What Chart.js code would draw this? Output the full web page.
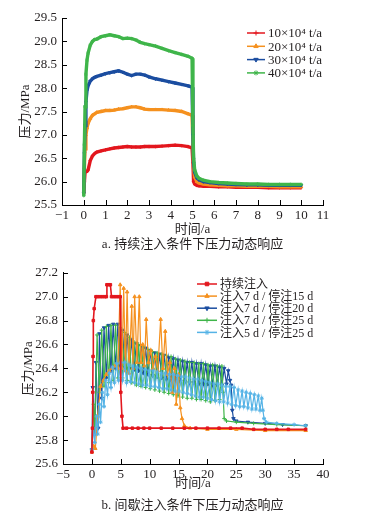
<!DOCTYPE html>
<html>
<head>
<meta charset="utf-8">
<script src="https://cdn.jsdelivr.net/npm/chart.js@4.4.1/dist/chart.umd.min.js"></script>
<style>
  body { margin: 0; width: 369px; height: 522px; background: #fff; position: relative; overflow: hidden; }
  .box { position: absolute; left: 0; width: 369px; }
  .cap { position: absolute; left: 62px; width: 261px; text-align: center; font: 13px/16px 'Liberation Serif', 'Noto Sans CJK SC', serif; color: #231f20; }
</style>
</head>
<body>
<div class="box" style="top:0;height:240px"><canvas id="chartA"></canvas></div>
<div class="cap" style="top:236px">a. 持续注入条件下压力动态响应</div>
<div class="box" style="top:260px;height:235px"><canvas id="chartB"></canvas></div>
<div class="cap" style="top:497px">b. 间歇注入条件下压力动态响应</div>
<script>
// ---- a. continuous injection ----
const yearsA = [0, 0.03, 0.06, 0.1, 0.15, 0.2, 0.3, 0.4, 0.5, 0.6, 0.8, 1.0, 1.2, 1.4, 1.6, 1.8, 2.0, 2.2, 2.4, 2.6, 2.8, 3.0, 3.3, 3.6, 3.9, 4.2, 4.5, 4.8, 4.98, 5.02, 5.05, 5.1, 5.2, 5.3, 5.5, 5.8, 6.2, 6.6, 7.0, 7.5, 8.0, 8.5, 9.0, 9.5, 10.0];
const p10 = [25.75, 26.0, 26.2, 26.2, 26.22, 26.25, 26.45, 26.55, 26.6, 26.63, 26.66, 26.68, 26.7, 26.72, 26.73, 26.74, 26.75, 26.74, 26.74, 26.74, 26.75, 26.75, 26.75, 26.76, 26.77, 26.78, 26.77, 26.75, 26.72, 26.4, 26.0, 25.95, 25.92, 25.91, 25.9, 25.9, 25.89, 25.89, 25.88, 25.88, 25.88, 25.87, 25.87, 25.87, 25.87];
const p20 = [25.8, 26.3, 26.7, 27.0, 27.15, 27.25, 27.35, 27.42, 27.45, 27.48, 27.5, 27.52, 27.52, 27.53, 27.55, 27.56, 27.58, 27.6, 27.6, 27.58, 27.55, 27.54, 27.54, 27.54, 27.53, 27.52, 27.5, 27.45, 27.42, 26.8, 26.3, 26.1, 26.0, 25.97, 25.95, 25.93, 25.92, 25.91, 25.91, 25.9, 25.9, 25.9, 25.89, 25.89, 25.89];
const p30 = [25.75, 26.6, 27.2, 27.7, 27.95, 28.05, 28.15, 28.2, 28.23, 28.25, 28.28, 28.31, 28.33, 28.35, 28.37, 28.34, 28.3, 28.27, 28.3, 28.3, 28.28, 28.24, 28.2, 28.17, 28.14, 28.11, 28.08, 28.05, 28.02, 27.0, 26.4, 26.2, 26.08, 26.04, 26.0, 25.98, 25.96, 25.95, 25.94, 25.93, 25.93, 25.92, 25.92, 25.92, 25.92];
const p40 = [25.7, 26.8, 27.6, 28.3, 28.6, 28.75, 28.92, 29.0, 29.04, 29.05, 29.1, 29.12, 29.14, 29.12, 29.1, 29.06, 29.07, 29.06, 29.03, 28.98, 28.95, 28.93, 28.9, 28.85, 28.8, 28.76, 28.72, 28.68, 28.64, 27.2, 26.5, 26.25, 26.12, 26.07, 26.03, 26.0, 25.98, 25.97, 25.96, 25.95, 25.95, 25.94, 25.94, 25.94, 25.94];
const labelsA = ['10×10⁴ t/a', '20×10⁴ t/a', '30×10⁴ t/a', '40×10⁴ t/a'];

// ---- b. intermittent injection: [year, MPa] ----
const contB = [[0,25.7],[0.1,25.9],[0.15,26.2],[0.2,26.5],[0.25,26.8],[0.4,26.9],[0.7,27.0],[1.0,27.0],[1.4,27.0],[1.8,27.0],[2.2,27.0],[2.5,27.0],[2.6,27.1],[2.9,27.1],[3.2,27.1],[3.4,27.0],[3.8,27.0],[4.2,27.0],[4.6,27.0],[4.9,27.0],[5.0,26.2],[5.2,26.0],[5.4,25.9],[6,25.9],[7,25.9],[8,25.9],[9,25.9],[10,25.9],[12,25.9],[14,25.9],[16,25.9],[18,25.9],[20,25.9],[22,25.9],[24,25.9],[26,25.9],[28,25.89],[30,25.89],[32,25.89],[34,25.89],[37,25.89]];
const cyc7_15 = [[0,25.7],[0.3,25.75],[0.6,25.73],[1.0,26.0],[1.5,26.25],[2.0,26.3],[2.5,26.35],[3,26.38],[3.5,26.4],[4,26.42],[4.5,26.4],[4.9,27.1],[5.2,26.4],[5.5,27.07],[5.8,26.38],[6.1,27.04],[6.4,26.36],[6.9,26.92],[7.1,26.4],[7.4,27.0],[7.8,26.45],[8.2,27.0],[8.5,26.45],[8.8,26.6],[9.1,26.42],[9.4,26.81],[9.8,26.45],[10.2,26.55],[10.6,26.4],[11,26.5],[11.4,26.38],[11.9,26.81],[12.3,26.4],[12.7,26.71],[13.1,26.35],[13.5,26.45],[13.9,26.2],[14.3,26.4],[14.6,26.1],[15.0,26.35],[15.3,26.07],[15.6,25.98],[16,25.92],[17,25.9],[20,25.89],[25,25.89],[30,25.88],[37,25.88]];
const cyc7_20 = [[0,25.72],[0.15,26.24],[0.5,25.85],[0.7,26.45],[1.1,25.9],[1.3,26.69],[1.7,26.15],[2.1,26.74],[2.5,26.32],[2.9,26.76],[3.3,26.38],[3.7,26.77],[4.1,26.4],[4.5,26.77],[4.9,26.42],[5.3,26.72],[5.7,26.41],[6.1,26.68],[6.5,26.4],[6.9,26.64],[7.3,26.39],[7.7,26.61],[8.1,26.38],[8.5,26.59],[8.9,26.36],[9.3,26.57],[9.7,26.35],[10.1,26.55],[10.5,26.34],[10.9,26.53],[11.3,26.33],[11.7,26.52],[12.1,26.32],[12.5,26.51],[12.9,26.31],[13.3,26.49],[13.7,26.3],[14.1,26.48],[14.5,26.3],[14.9,26.47],[15.3,26.29],[15.7,26.46],[16.1,26.29],[16.5,26.45],[16.9,26.28],[17.3,26.45],[17.7,26.28],[18.1,26.44],[18.5,26.27],[18.9,26.44],[19.3,26.27],[19.7,26.43],[20.1,26.27],[20.5,26.42],[20.9,26.26],[21.3,26.42],[21.7,26.26],[22.1,26.41],[22.5,26.26],[22.9,26.4],[23.3,26.27],[23.6,26.38],[23.9,26.3],[24.1,26.26],[24.3,26.05],[24.5,25.98],[25,25.96],[27,25.95],[30,25.94],[33,25.93],[37,25.92]];
const cyc7_25 = [[0,25.72],[0.3,26.1],[0.5,25.88],[0.9,26.68],[1.3,26.2],[1.7,26.72],[2.1,26.25],[2.5,26.75],[2.9,26.28],[3.3,26.76],[3.7,26.3],[4.1,26.76],[4.5,26.32],[4.9,26.74],[5.3,26.32],[5.7,26.7],[6.1,26.3],[6.5,26.66],[6.9,26.28],[7.3,26.62],[7.7,26.26],[8.1,26.6],[8.5,26.25],[8.9,26.58],[9.3,26.24],[9.7,26.56],[10.1,26.23],[10.5,26.54],[10.9,26.22],[11.3,26.53],[11.7,26.21],[12.1,26.52],[12.5,26.2],[12.9,26.51],[13.3,26.19],[13.7,26.5],[14.1,26.18],[14.5,26.48],[14.9,26.17],[15.3,26.47],[15.7,26.16],[16.1,26.46],[16.5,26.15],[16.9,26.45],[17.3,26.15],[17.7,26.45],[18.1,26.14],[18.5,26.44],[18.9,26.14],[19.3,26.44],[19.7,26.13],[20.1,26.43],[20.5,26.12],[20.9,26.43],[21.3,26.13],[21.7,26.42],[22.1,26.14],[22.5,26.42],[22.7,26.2],[22.9,25.98],[23.3,25.96],[25,25.95],[28,25.94],[32,25.93],[37,25.92]];
const cyc5_25 = [[0,25.72],[0.3,25.9],[0.5,25.78],[0.8,26.0],[1.0,25.85],[1.3,26.1],[1.5,25.95],[1.8,26.2],[2.1,26.08],[2.4,26.3],[2.7,26.18],[3.0,26.36],[3.3,26.24],[3.6,26.41],[3.9,26.28],[4.3,26.44],[4.6,26.3],[5.0,26.45],[5.3,26.3],[5.7,26.45],[6.0,26.28],[6.4,26.43],[6.7,26.29],[7.1,26.42],[7.4,26.28],[7.8,26.41],[8.1,26.27],[8.5,26.4],[8.8,26.26],[9.2,26.39],[9.5,26.26],[9.9,26.38],[10.2,26.25],[10.6,26.38],[10.9,26.25],[11.3,26.37],[11.6,26.24],[12,26.36],[12.3,26.23],[12.7,26.36],[13,26.23],[13.4,26.35],[13.7,26.22],[14.1,26.35],[14.4,26.21],[14.8,26.34],[15.1,26.21],[15.5,26.33],[15.8,26.2],[16.2,26.33],[16.5,26.19],[16.9,26.32],[17.2,26.18],[17.6,26.31],[17.9,26.17],[18.3,26.31],[18.6,26.16],[19,26.3],[19.3,26.16],[19.7,26.29],[20,26.15],[20.4,26.28],[20.7,26.14],[21.1,26.27],[21.4,26.13],[21.8,26.27],[22.1,26.12],[22.5,26.26],[22.8,26.12],[23.2,26.25],[23.5,26.11],[23.9,26.25],[24.2,26.1],[24.6,26.24],[24.9,26.09],[25.3,26.22],[25.6,26.08],[26,26.21],[26.3,26.08],[26.7,26.2],[27,26.07],[27.4,26.19],[27.7,26.06],[28.1,26.18],[28.4,26.06],[28.8,26.17],[29.1,26.05],[29.4,26.15],[29.6,26.05],[29.8,25.98],[30.2,25.95],[32,25.94],[35,25.93],[37,25.92]];
const labelsB = ['持续注入', '注入7 d / 停注15 d', '注入7 d / 停注20 d', '注入7 d / 停注25 d', '注入5 d / 停注25 d'];

const RED = '#e3171e', ORANGE = '#f5911f', BLUE = '#1b4da0', GREEN = '#3fb54a', LBLUE = '#55b3e6';
const FONT = "'Liberation Serif', 'Noto Sans CJK SC', serif";
const INK = '#231f20';

Chart.defaults.font.family = FONT;
Chart.defaults.color = INK;

const pairs = (arr) => arr.map(([x, y]) => ({ x, y }));
const zipA = (vals) => vals.map((y, i) => ({ x: yearsA[i], y }));
const minus = (v) => (v < 0 ? '−' + Math.abs(v) : String(v));

// line + marker legend drawn inside the plot
const lineLegend = {
  id: 'lineLegend',
  afterDraw(chart, args, o) {
    const ctx = chart.ctx;
    ctx.save();
    chart.data.datasets.forEach((ds, i) => {
      const y = o.top + i * o.step;
      ctx.strokeStyle = ds.borderColor;
      ctx.fillStyle = ds.borderColor;
      ctx.lineWidth = 1.5;
      ctx.beginPath(); ctx.moveTo(o.x0, y); ctx.lineTo(o.x1, y); ctx.stroke();
      ctx.lineWidth = 1;
      if (Chart.helpers && Chart.helpers.drawPoint) {
        Chart.helpers.drawPoint(ctx, { pointStyle: ds.pointStyle, radius: 2.5, rotation: ds.pointRotation || 0, borderWidth: 1 }, (o.x0 + o.x1) / 2, y);
      }
      ctx.fillStyle = INK;
      ctx.font = o.font;
      ctx.textBaseline = 'middle';
      ctx.fillText(ds.label, o.x1 + 3, y + 1);
    });
    ctx.restore();
  }
};

// tick marks pointing into the plot
const innerTicks = {
  id: 'innerTicks',
  afterDraw(chart) {
    const { ctx, scales: { x, y } } = chart;
    ctx.save();
    ctx.strokeStyle = '#000';
    ctx.lineWidth = 1;
    ctx.beginPath();
    x.ticks.forEach(t => { const px = Math.round(x.getPixelForValue(t.value)) + 0.5; ctx.moveTo(px, x.top); ctx.lineTo(px, x.top - 5); });
    y.ticks.forEach(t => { const py = Math.round(y.getPixelForValue(t.value)) + 0.5; ctx.moveTo(y.right, py); ctx.lineTo(y.right + 5, py); });
    ctx.stroke();
    ctx.restore();
  }
};

function axes(o) {
  return {
    x: {
      type: 'linear', min: o.xmin, max: o.xmax,
      grid: { display: false, drawTicks: false },
      border: { display: true, color: '#000', width: 1 },
      ticks: { stepSize: o.xstep, padding: 3, font: { size: 13 }, color: INK, callback: minus, maxRotation: 0 },
      title: { display: true, text: '时间/a', font: { size: 13 }, color: INK, padding: { top: 0, bottom: o.xtPad } },
      afterFit: (s) => { s.height = o.xh; }
    },
    y: {
      min: o.ymin, max: o.ymax,
      grid: { display: false, drawTicks: false },
      border: { display: true, color: '#000', width: 1 },
      ticks: { stepSize: o.ystep, padding: 5, font: { size: 13 }, color: INK, callback: (v) => v.toFixed(1) },
      title: { display: true, text: '压力/MPa', font: { size: 13 }, color: INK, padding: { top: o.ytPad, bottom: 0 } },
      afterFit: (s) => { s.width = o.yw; }
    }
  };
}

function series(label, data, color, style, extra) {
  return Object.assign({
    label, data, borderColor: color, backgroundColor: color,
    pointBackgroundColor: color, pointBorderColor: color, pointStyle: style,
    tension: 0, fill: false
  }, extra);
}

const thick = { borderWidth: 3.4, pointRadius: 1.7, pointBorderWidth: 1 };
new Chart(document.getElementById('chartA'), {
  type: 'line',
  data: {
    datasets: [
      series(labelsA[0], zipA(p10), RED, 'cross', Object.assign({ order: 3 }, thick)),
      series(labelsA[1], zipA(p20), ORANGE, 'triangle', Object.assign({ order: 2 }, thick)),
      series(labelsA[2], zipA(p30), BLUE, 'triangle', Object.assign({ order: 1, pointRotation: 180 }, thick)),
      series(labelsA[3], zipA(p40), GREEN, 'star', Object.assign({ order: 0 }, thick))
    ]
  },
  options: {
    responsive: true, maintainAspectRatio: false, animation: false, devicePixelRatio: 1,
    layout: { padding: { left: 0, right: 46, top: 18, bottom: 0 } },
    scales: axes({ xmin: -1, xmax: 11, xstep: 1, ymin: 25.5, ymax: 29.5, ystep: 0.5, xh: 35, yw: 62, xtPad: 2.6, ytPad: 18 }),
    plugins: {
      legend: { display: false }, tooltip: { enabled: false },
      lineLegend: { x0: 247, x1: 265, top: 33, step: 13.3, font: '13px ' + FONT }
    }
  },
  plugins: [lineLegend, innerTicks]
});

const thin = { borderWidth: 1.2, pointRadius: 2, pointBorderWidth: 1 };
new Chart(document.getElementById('chartB'), {
  type: 'line',
  data: {
    datasets: [
      series(labelsB[0], pairs(contB), RED, 'rect', Object.assign({ order: 0 }, thin, { borderWidth: 1.6, pointRadius: 1.8 })),
      series(labelsB[1], pairs(cyc7_15), ORANGE, 'triangle', Object.assign({ order: 2 }, thin)),
      series(labelsB[2], pairs(cyc7_20), BLUE, 'triangle', Object.assign({ order: 4, pointRotation: 180 }, thin)),
      series(labelsB[3], pairs(cyc7_25), GREEN, 'cross', Object.assign({ order: 3 }, thin)),
      series(labelsB[4], pairs(cyc5_25), LBLUE, 'star', Object.assign({ order: 1 }, thin))
    ]
  },
  options: {
    responsive: true, maintainAspectRatio: false, animation: false, devicePixelRatio: 1,
    layout: { padding: { left: 0, right: 46, top: 11, bottom: 0 } },
    scales: axes({ xmin: -5, xmax: 40, xstep: 5, ymin: 25.6, ymax: 27.2, ystep: 0.2, xh: 31, yw: 63, xtPad: 3.6, ytPad: 21 }),
    plugins: {
      legend: { display: false }, tooltip: { enabled: false },
      lineLegend: { x0: 197, x1: 217, top: 24, step: 12.1, font: '12px ' + FONT }
    }
  },
  plugins: [lineLegend, innerTicks]
});
</script>
</body>
</html>
